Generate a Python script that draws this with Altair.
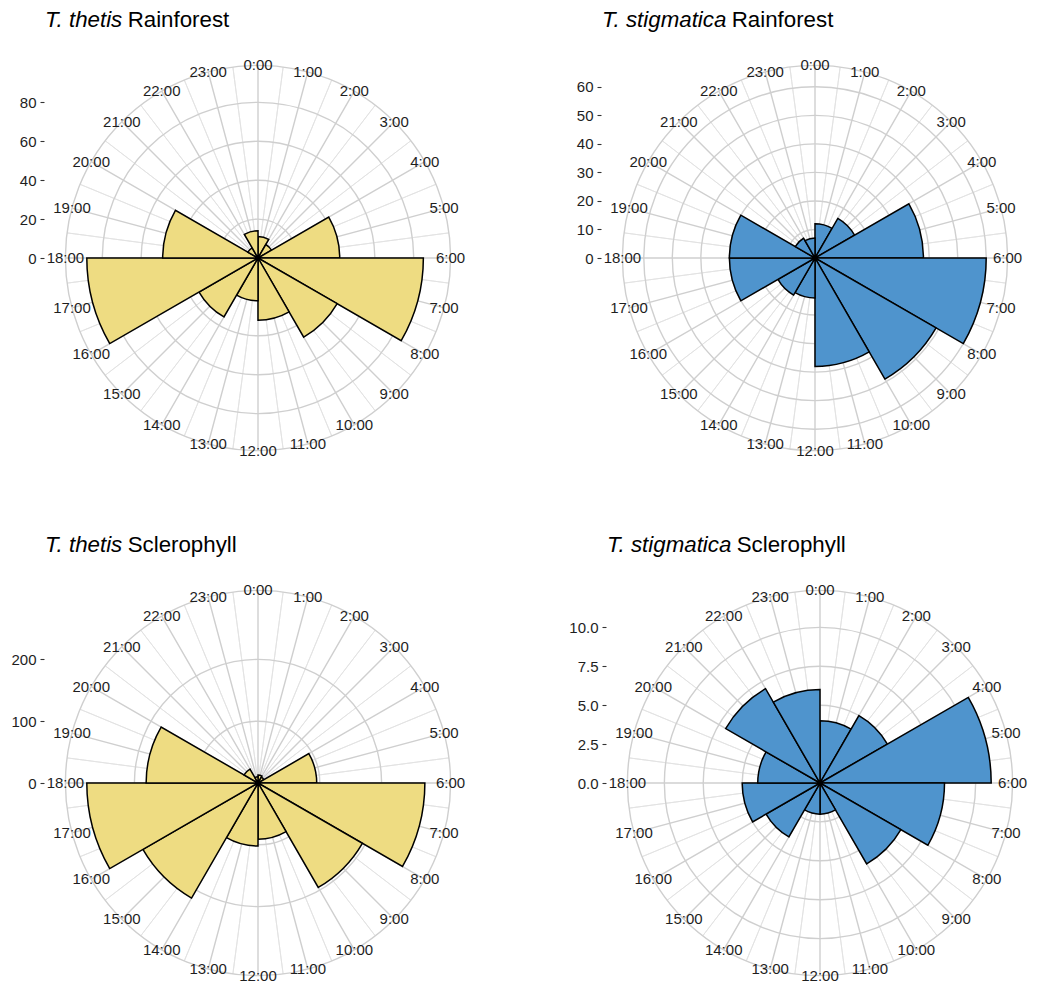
import math

import altair as alt
import pandas as pd

# ---------------------------------------------------------------- data
HOURS = list(range(24))
HOUR_LABELS = [f"{h}:00" for h in HOURS]
BIN_START = list(range(0, 24, 2))          # two-hour bins, 0:00 ... 22:00
BIN_WIDTH = 2

THETIS_RAINFOREST = [11, 8, 42, 85, 47, 32, 22, 35, 88, 49, 6, 14]
STIGMATICA_RAINFOREST = [12, 16, 38, 60, 49, 38, 14, 15, 30, 30, 8, 7]
THETIS_SCLEROPHYLL = [13, 11, 95, 270, 195, 91, 102, 215, 277, 181, 26, 10]
STIGMATICA_SCLEROPHYLL = [4, 5, 11, 8, 6, 2, 2, 4, 5, 4, 7, 6]

BREAKS_THETIS_RAINFOREST = [0, 20, 40, 60, 80]
BREAKS_STIGMATICA_RAINFOREST = [0, 10, 20, 30, 40, 50, 60]
BREAKS_THETIS_SCLEROPHYLL = [0, 100, 200]
BREAKS_STIGMATICA_SCLEROPHYLL = [0, 2.5, 5, 7.5, 10]

YELLOW = "#EEDC82"
BLUE = "#4F94CD"

# ---------------------------------------------------------------- style
FONT = "Liberation Sans"
PLOT = 428                      # square plot area of one rose
R_DATA = 0.4 * PLOT             # radius of the largest bar
OUTER = 1.125                   # outer ring / hour labels, relative to largest bar
GRID_MAJOR = "#cfcfcf"
GRID_MINOR = "#e2e2e2"
TEXT = "#1e1e1e"
TITLE_SIZE = 22.3
TITLE_Y = -17.5

# Arial / Liberation Sans advance widths (1/1000 em) for the title glyphs
ADVANCE = {"T": 611, ".": 278, " ": 278, "t": 278, "h": 556, "e": 556,
           "i": 222, "s": 500, "g": 556, "m": 833, "a": 556, "c": 500}


def text_width(s, size):
    return sum(ADVANCE.get(ch, 556) for ch in s) * size / 1000.0


def rose(species, habitat, counts, breaks, fill, fmt):
    top = max(counts)
    theta_scale = alt.Scale(domain=[0, 24], range=[0, 2 * math.pi])
    r_scale = alt.Scale(type="linear", domain=[0, top], range=[0, R_DATA],
                        zero=True, nice=False)
    half = (PLOT / 2) * top / R_DATA
    y_scale = alt.Scale(domain=[-half, half], nice=False, zero=False)

    outer = top * OUTER

    bars = pd.DataFrame({
        "start": BIN_START,
        "end": [s + BIN_WIDTH for s in BIN_START],
        "count": counts,
    })
    spokes_major = pd.DataFrame({"pos": HOURS, "r": [outer] * 24})
    spokes_minor = pd.DataFrame({"pos": [h + 0.5 for h in HOURS], "r": [outer] * 24})
    rings = pd.DataFrame({"r": [b for b in breaks if b > 0] + [outer]})
    labels = pd.DataFrame({"hour": HOURS, "label": HOUR_LABELS, "r": [outer] * 24})
    ticks = pd.DataFrame({"v": breaks})

    def spoke_layer(df, color, width):
        return alt.Chart(df).mark_arc(
            fillOpacity=0, stroke=color, strokeWidth=width
        ).encode(
            theta=alt.Theta("pos:Q", scale=theta_scale, stack=False),
            theta2="pos:Q",
            radius=alt.Radius("r:Q", scale=r_scale),
        )

    minor = spoke_layer(spokes_minor, GRID_MINOR, 0.9)
    major = spoke_layer(spokes_major, GRID_MAJOR, 1.4)

    ring_layer = alt.Chart(rings).mark_arc(
        fillOpacity=0, stroke=GRID_MAJOR, strokeWidth=1.4
    ).encode(
        theta=alt.Theta("a:Q", scale=theta_scale, stack=False),
        theta2="b:Q",
        radius=alt.Radius("r:Q", scale=r_scale),
    ).transform_calculate(a="0", b="24")

    bar_layer = alt.Chart(bars).mark_arc(
        fill=fill, stroke="black", strokeWidth=1.5, strokeJoin="miter"
    ).encode(
        theta=alt.Theta("start:Q", scale=theta_scale, stack=False),
        theta2="end:Q",
        radius=alt.Radius("count:Q", scale=r_scale),
    )

    hour_text = alt.Chart(labels).mark_text(
        font=FONT, fontSize=15, color=TEXT, align="center", baseline="middle"
    ).encode(
        theta=alt.Theta("hour:Q", scale=theta_scale, stack=False),
        radius=alt.Radius("r:Q", scale=r_scale),
        text="label:N",
    )

    r_axis = alt.Chart(ticks).mark_point(opacity=0, size=1).encode(
        y=alt.Y(
            "v:Q",
            scale=y_scale,
            axis=alt.Axis(
                values=breaks, format=fmt, title=None, grid=False, domain=False,
                orient="left", tickSize=4, tickWidth=1.1, tickColor="#333333",
                labelPadding=4, labelFont=FONT, labelFontSize=15,
                labelColor=TEXT,
            ),
        )
    )

    title_species = alt.Chart(pd.DataFrame({"t": [species]})).mark_text(
        font=FONT, fontSize=TITLE_SIZE, fontStyle="italic", color="black",
        align="left", baseline="alphabetic",
    ).encode(x=alt.value(1), y=alt.value(TITLE_Y), text="t:N")

    title_habitat = alt.Chart(pd.DataFrame({"t": [habitat]})).mark_text(
        font=FONT, fontSize=TITLE_SIZE, color="black",
        align="left", baseline="alphabetic",
    ).encode(
        x=alt.value(1 + text_width(species, TITLE_SIZE) + 0.15 * TITLE_SIZE),
        y=alt.value(TITLE_Y),
        text="t:N",
    )

    return alt.layer(
        minor, major, ring_layer, bar_layer, hour_text, r_axis,
        title_species, title_habitat,
    ).properties(width=PLOT, height=PLOT)


p1 = rose("T. thetis", "Rainforest", THETIS_RAINFOREST,
          BREAKS_THETIS_RAINFOREST, YELLOW, "d")
p2 = rose("T. stigmatica", "Rainforest", STIGMATICA_RAINFOREST,
          BREAKS_STIGMATICA_RAINFOREST, BLUE, "d")
p3 = rose("T. thetis", "Sclerophyll", THETIS_SCLEROPHYLL,
          BREAKS_THETIS_SCLEROPHYLL, YELLOW, "d")
p4 = rose("T. stigmatica", "Sclerophyll", STIGMATICA_SCLEROPHYLL,
          BREAKS_STIGMATICA_SCLEROPHYLL, BLUE, ".1f")

top_row = alt.hconcat(p1, p2, spacing=104)
bottom_row = alt.hconcat(p3, p4, spacing=96)

chart = alt.vconcat(top_row, bottom_row, spacing=61).properties(
    padding={"left": 10, "top": 8, "right": 5, "bottom": 5},
    background="white",
).configure_view(strokeOpacity=0)

chart.save("out.html", embed_options={"renderer": "svg", "actions": False})
